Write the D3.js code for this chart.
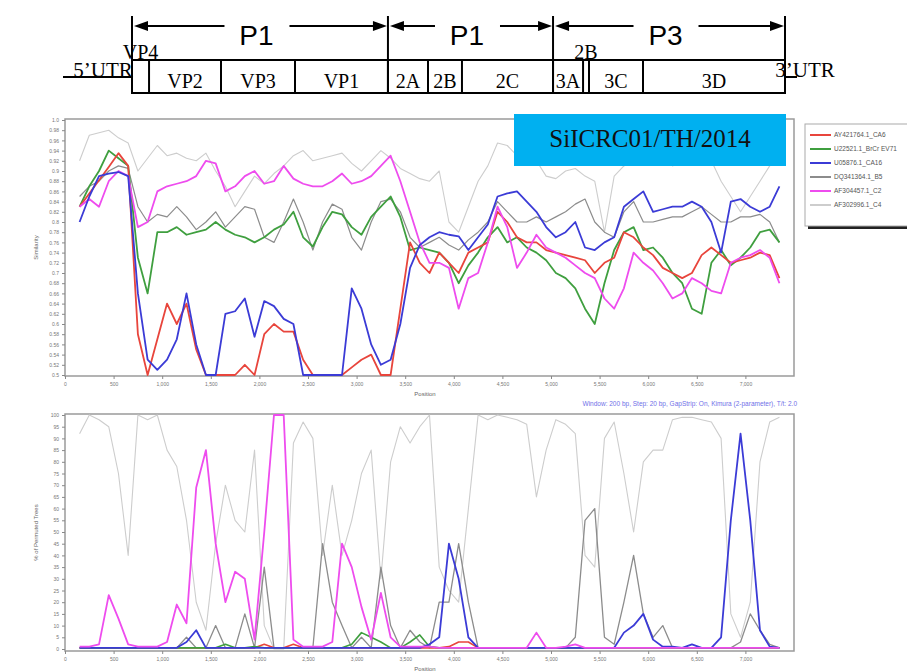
<!DOCTYPE html>
<html>
<head>
<meta charset="utf-8">
<script src="https://cdn.jsdelivr.net/npm/d3@7"></script>
<style>
body { margin: 0; background: #fff; }
svg { display: block; }
</style>
</head>
<body>
<svg id="svg0" width="907" height="671"></svg>
<script>

// ---- genome map (nt positions of the gene starts, drawn with a linear scale)
var geneLabels = ["VP4", "VP2", "VP3", "VP1", "2A", "2B", "2C", "3A", "2B", "3C", "3D"];
var geneStarts = [740, 912, 1638, 2385, 3323, 3727, 4070, 4989, 5292, 5352, 5897];
var labelAbove = [true, false, false, false, false, false, false, false, true, false, false];
var genomeEnd = 7330;
var proteinLabels = ["P1", "P1", "P3"];
var proteinStarts = [740, 3323, 4989];

// ---- sequences
var seriesNames = ["AY421764.1_CA6", "U22521.1_BrCr EV71", "U05876.1_CA16",
	"DQ341364.1_B5", "AF304457.1_C2", "AF302996.1_C4"];
var seriesColors = ["#e8453c", "#3f9f3f", "#3b3bd6", "#8c8c8c", "#ee4cee", "#cdcdcd"];

// window midpoints (bp)
var positions = [150, 250, 350, 450, 550, 650, 750, 850, 950, 1050, 1150, 1250, 1350, 1450,
	1550, 1650, 1750, 1850, 1950, 2050, 2150, 2250, 2350, 2450, 2550, 2650, 2750, 2850,
	2950, 3050, 3150, 3250, 3350, 3450, 3550, 3650, 3750, 3850, 3950, 4050, 4150, 4250,
	4350, 4450, 4550, 4650, 4750, 4850, 4950, 5050, 5150, 5250, 5350, 5450, 5550, 5650,
	5750, 5850, 5950, 6050, 6150, 6250, 6350, 6450, 6550, 6650, 6750, 6850, 6950, 7050,
	7150, 7250, 7350];

// similarity plot values
var simCA6 = [.83, .856, .882, .908, .935, .91, .58, .5, .57, .64,
	.60, .64, .55, .5, .5, .5, .5, .52, .5, .58,
	.60, .585, .585, .53, .5, .5, .5, .5, .515, .53,
	.54, .5, .5, .63, .76, .72, .70, .74, .72, .70,
	.74, .75, .76, .82, .80, .77, .76, .76, .745, .74,
	.735, .73, .725, .70, .72, .73, .78, .77, .75, .735,
	.71, .70, .69, .70, .735, .75, .735, .72, .725, .73,
	.74, .735, .69];
var simEV71 = [.83, .87, .90, .94, .925, .91, .73, .66, .78, .78,
	.79, .775, .78, .785, .80, .785, .775, .77, .76, .77,
	.785, .795, .82, .77, .752, .79, .82, .815, .79, .775,
	.81, .83, .85, .81, .745, .75, .745, .74, .72, .68,
	.715, .74, .77, .79, .76, .77, .75, .74, .725, .70,
	.69, .67, .63, .60, .68, .745, .78, .79, .745, .75,
	.73, .70, .68, .63, .62, .72, .745, .715, .73, .75,
	.78, .785, .76];
var simCA16 = [.80, .85, .89, .895, .898, .89, .66, .53, .51, .53,
	.57, .66, .56, .5, .5, .62, .625, .65, .575, .645,
	.635, .61, .60, .5, .5, .5, .5, .5, .67, .63,
	.56, .52, .53, .60, .71, .755, .77, .78, .775, .772,
	.745, .77, .795, .85, .856, .86, .84, .82, .79, .77,
	.78, .80, .75, .745, .76, .77, .83, .845, .86, .82,
	.825, .83, .83, .84, .83, .80, .74, .84, .845, .83,
	.82, .83, .87];
var simB5 = [.85, .87, .88, .90, .91, .905, .83, .80, .815, .81,
	.83, .81, .785, .80, .82, .79, .81, .83, .825, .77,
	.76, .80, .845, .80, .745, .80, .835, .825, .77, .745,
	.80, .84, .845, .82, .77, .75, .76, .77, .755, .745,
	.765, .78, .80, .84, .82, .80, .80, .81, .80, .81,
	.82, .835, .845, .80, .78, .77, .82, .84, .80, .80,
	.805, .81, .81, .82, .83, .815, .80, .80, .81, .81,
	.815, .80, .76];
var simC2 = [.83, .845, .83, .88, .90, .89, .79, .80, .86, .87,
	.875, .88, .89, .92, .915, .86, .87, .89, .90, .875,
	.88, .91, .885, .875, .87, .87, .88, .895, .875, .88,
	.89, .91, .93, .88, .82, .76, .72, .72, .71, .63,
	.69, .70, .76, .83, .79, .71, .74, .775, .75, .74,
	.73, .715, .70, .69, .65, .63, .67, .74, .72, .705,
	.68, .65, .66, .69, .68, .665, .66, .72, .73, .735,
	.745, .73, .68];
var simC4 = [.92, .97, .975, .98, .965, .955, .90, .925, .95, .93,
	.935, .925, .92, .935, .90, .87, .83, .86, .89, .875,
	.895, .91, .93, .94, .92, .925, .93, .935, .915, .90,
	.92, .94, .925, .905, .895, .885, .88, .90, .80, .78,
	.83, .88, .91, .955, .95, .93, .95, .92, .89, .885,
	.90, .905, .89, .88, .78, .89, .91, .92, .93, .935,
	.925, .91, .92, .925, .93, .92, .88, .85, .82, .85,
	.88, .91, .94];

// bootscan values (% of permuted trees)
var bootCA6 = [.5, .5, .5, .5, .5, .5, .5, .5, .5, .5,
	.5, .5, .5, .5, .5, .5, .5, .5, .5, 2,
	.5, .5, 2, .5, .5, .5, .5, .5, .5, .5,
	.5, .5, .5, .5, .5, .5, .5, .5, 1, 3,
	3, .5, .5, .5, .5, .5, .5, .5, .5, .5,
	.5, .5, .5, .5, .5, .5, .5, .5, .5, .5,
	.5, .5, .5, .5, .5, .5, .5, .5, .5, .5,
	.5, .5, .5];
var bootEV71 = [.5, .5, .5, .5, .5, .5, .5, .5, .5, .5,
	.5, .5, .5, .5, .5, 2, .5, .5, 1, .5,
	.5, .5, .5, .5, .5, .5, .5, .5, 2, 7,
	5, 3, .5, .5, 3, 6, 1, .5, .5, .5,
	.5, .5, .5, .5, .5, .5, .5, .5, .5, .5,
	.5, .5, .5, .5, .5, .5, .5, .5, .5, .5,
	.5, .5, .5, .5, .5, .5, .5, .5, .5, .5,
	.5, .5, .5];
var bootCA16 = [.5, .5, .5, .5, .5, .5, .5, .5, .5, .5,
	.5, 3, 8, .5, .5, .5, .5, .5, .5, .5,
	.5, .5, .5, .5, .5, .5, .5, .5, .5, .5,
	.5, .5, .5, .5, .5, .5, 2, 5, 45, 30,
	5, .5, .5, .5, .5, .5, .5, .5, .5, .5,
	.5, .5, .5, .5, .5, .5, 7, 10, 15, 4,
	1, 1, .5, 2, .5, .5, 5, 55, 92, 55,
	8, 1, .5];
var bootB5 = [.5, .5, .5, .5, .5, .5, .5, .5, .5, .5,
	.5, 5, .5, .5, 10, .5, .5, 15, .5, 35,
	.5, .5, .5, .5, .5, 45, 20, 10, .5, 5,
	.5, 35, 10, .5, 8, 3, .5, 20, 20, 45,
	20, .5, .5, .5, .5, .5, .5, .5, .5, .5,
	.5, 5, 55, 60, 5, 2, 20, 40, 15, 5,
	10, .5, .5, .5, .5, .5, .5, .5, 3, 15,
	8, 2, .5];
var bootC2 = [1, 1, 2, 23, 13, 2, 1, 1, 1, 3,
	19, 11, 69, 85, 45, 20, 33, 30, 4, 50,
	100, 100, 4, 1, 1, 1, 3, 45, 35, 18,
	4, 24, 5, 1, 1, 1, 1, .5, .5, .5,
	.5, .5, .5, .5, .5, .5, .5, 7, .5, .5,
	1, 2, .5, .5, .5, .5, .5, .5, .5, .5,
	.5, .5, .5, .5, .5, .5, .5, .5, .5, .5,
	.5, .5, .5];
var bootC4 = [92, 100, 98, 95, 75, 40, 100, 98, 100, 85,
	78, 55, 20, 8, 45, 70, 55, 50, 85, 10,
	0, 0, 88, 97, 90, 40, 70, 40, 55, 75,
	85, 30, 80, 95, 88, 95, 100, 35, 25, 20,
	60, 100, 98, 100, 99, 98, 96, 65, 85, 98,
	96, 92, 40, 35, 90, 97, 75, 50, 80, 85,
	85, 98, 99, 99, 98, 97, 90, 15, 5, 20,
	80, 97, 99];

// tick values
var xTicks = [0, 500, 1000, 1500, 2000, 2500, 3000, 3500, 4000, 4500, 5000, 5500, 6000, 6500, 7000];
var simTicks = [0.5, 0.52, 0.54, 0.56, 0.58, 0.6, 0.62, 0.64, 0.66, 0.68, 0.7, 0.72, 0.74,
	0.76, 0.78, 0.8, 0.82, 0.84, 0.86, 0.88, 0.9, 0.92, 0.94, 0.96, 0.98, 1.0];
var bootTicks = [0, 5, 10, 15, 20, 25, 30, 35, 40, 45, 50, 55, 60, 65, 70, 75, 80, 85, 90, 95, 100];

var svg = d3.select("#svg0");

// ================= genome map =================
var gmap = svg.append("g").attr("id", "genome_map");
var gx = d3.scaleLinear().domain([geneStarts[0], genomeEnd]).range([132, 785]);
var boxTop = 60, boxBottom = 93, arrowY = 26;
var serif = "'Liberation Serif', 'Times New Roman', serif";

gmap.append("rect")
	.attr("x", gx(geneStarts[0]))
	.attr("y", boxTop)
	.attr("width", gx(genomeEnd) - gx(geneStarts[0]))
	.attr("height", boxBottom - boxTop)
	.attr("fill", "none")
	.attr("stroke", "#000")
	.attr("stroke-width", 2);

gmap.selectAll("line.gene")
	.data(geneStarts.slice(1))
	.enter()
	.append("line")
	.attr("class", "gene")
	.attr("x1", d => gx(d)).attr("x2", d => gx(d))
	.attr("y1", boxTop).attr("y2", boxBottom)
	.attr("stroke", "#000")
	.attr("stroke-width", 2);

// long vertical bars at the polyprotein boundaries
gmap.selectAll("line.prot")
	.data(proteinStarts.concat([genomeEnd]))
	.enter()
	.append("line")
	.attr("class", "prot")
	.attr("x1", d => gx(d)).attr("x2", d => gx(d))
	.attr("y1", 16).attr("y2", boxBottom)
	.attr("stroke", "#000")
	.attr("stroke-width", 2);

// gene names
geneLabels.forEach(function(name, i) {
	var s = geneStarts[i];
	var e = i + 1 < geneStarts.length ? geneStarts[i + 1] : genomeEnd;
	gmap.append("text")
		.attr("x", (gx(s) + gx(e)) / 2)
		.attr("y", labelAbove[i] ? 59 : 88)
		.attr("text-anchor", "middle")
		.attr("font-family", serif)
		.attr("font-size", 20)
		.text(name);
});

// UTRs
gmap.append("line")
	.attr("x1", 63).attr("x2", gx(geneStarts[0]))
	.attr("y1", 77).attr("y2", 77)
	.attr("stroke", "#000").attr("stroke-width", 2);
gmap.append("text")
	.attr("x", 103).attr("y", 77)
	.attr("text-anchor", "middle")
	.attr("font-family", serif)
	.attr("font-size", 21)
	.text("5\u2019UTR");
gmap.append("line")
	.attr("x1", gx(genomeEnd)).attr("x2", gx(genomeEnd) + 12)
	.attr("y1", 77).attr("y2", 77)
	.attr("stroke", "#000").attr("stroke-width", 2);
gmap.append("text")
	.attr("x", 805).attr("y", 77)
	.attr("text-anchor", "middle")
	.attr("font-family", serif)
	.attr("font-size", 21)
	.text("3\u2019UTR");

// polyprotein arrows
var arrowHead = function(tip, dir) {
	gmap.append("path")
		.attr("d", "M" + tip + "," + arrowY +
			"L" + (tip + dir * 14) + "," + (arrowY - 5) +
			"L" + (tip + dir * 14) + "," + (arrowY + 5) + "Z")
		.attr("fill", "#000");
};
proteinLabels.forEach(function(name, i) {
	var a = gx(proteinStarts[i]) + 2;
	var b = gx(i + 1 < proteinStarts.length ? proteinStarts[i + 1] : genomeEnd) - 1;
	var c = (a + b) / 2 - 4;
	gmap.append("line")
		.attr("x1", a + 10).attr("x2", c - 32)
		.attr("y1", arrowY).attr("y2", arrowY)
		.attr("stroke", "#000").attr("stroke-width", 2);
	gmap.append("line")
		.attr("x1", c + 33).attr("x2", b - 10)
		.attr("y1", arrowY).attr("y2", arrowY)
		.attr("stroke", "#000").attr("stroke-width", 2);
	arrowHead(a, 1);
	arrowHead(b, -1);
	gmap.append("text")
		.attr("x", c).attr("y", 45)
		.attr("text-anchor", "middle")
		.attr("font-family", "'Liberation Sans', Arial, sans-serif")
		.attr("font-size", 28)
		.text(name);
});

// ================= plots =================
var x = d3.scaleLinear().domain([0, 7500]).range([65, 794]);
var ySim = d3.scaleLinear().domain([0.5, 1.0]).range([375, 120]);
var yBoot = d3.scaleLinear().domain([0, 100]).range([649, 415]);
var sans = "'Liberation Sans', Arial, sans-serif";

var drawPlot = function(opts) {
	var g = svg.append("g").attr("id", opts.id);
	var y = opts.y;
	var x0 = x.range()[0], x1 = x.range()[1];

	g.append("clipPath").attr("id", opts.id + "_clip")
		.append("rect")
		.attr("x", x0).attr("y", opts.top)
		.attr("width", x1 - x0).attr("height", opts.bottom - opts.top);

	g.append("rect")
		.attr("x", x0).attr("y", opts.top)
		.attr("width", x1 - x0).attr("height", opts.bottom - opts.top)
		.attr("fill", "#fff")
		.attr("stroke", "#9a9a9a")
		.attr("stroke-width", 1.5);

	var lo = y.domain()[0], hi = y.domain()[1];
	var line = d3.line()
		.x((d, i) => x(positions[i]))
		.y(d => y(Math.max(lo, Math.min(hi, d))));

	var lines = g.append("g").attr("clip-path", "url(#" + opts.id + "_clip)");
	opts.order.forEach(function(k) {
		lines.append("path")
			.datum(opts.series[k])
			.attr("d", line)
			.attr("fill", "none")
			.attr("stroke", seriesColors[k])
			.attr("stroke-width", opts.widths[k])
			.attr("stroke-linejoin", "round");
	});

	var ya = g.append("g")
		.attr("transform", "translate(" + x0 + ",0)")
		.call(d3.axisLeft(y).tickValues(opts.ticks).tickSize(3).tickFormat(opts.fmt));
	var xa = g.append("g")
		.attr("transform", "translate(0," + opts.bottom + ")")
		.call(d3.axisBottom(x).tickValues(xTicks).tickSize(3).tickFormat(d3.format(",")));
	[ya, xa].forEach(function(a) {
		a.select(".domain").remove();
		a.attr("font-family", sans).attr("font-size", 5);
		a.selectAll("line").attr("stroke", "#888");
		a.selectAll("text").attr("fill", "#777");
	});

	g.append("text")
		.attr("transform", "translate(38," + ((opts.top + opts.bottom) / 2) + ") rotate(-90)")
		.attr("text-anchor", "middle")
		.attr("font-family", sans).attr("font-size", 6)
		.attr("fill", "#666")
		.text(opts.ylabel);
	g.append("text")
		.attr("x", 425).attr("y", opts.bottom + 20)
		.attr("text-anchor", "middle")
		.attr("font-family", sans).attr("font-size", 6)
		.attr("fill", "#666")
		.text("Position");
};

drawPlot({
	id: "simplot", y: ySim, top: 119, bottom: 376,
	series: [simCA6, simEV71, simCA16, simB5, simC2, simC4],
	order: [5, 3, 1, 0, 4, 2],
	widths: [1.8, 1.8, 1.8, 1.2, 1.8, 1.1],
	ticks: simTicks,
	fmt: d => (Math.abs(d * 10 - Math.round(d * 10)) < 1e-6 ? d.toFixed(1) : d.toFixed(2)),
	ylabel: "Similarity"
});

drawPlot({
	id: "bootscan", y: yBoot, top: 414, bottom: 651,
	series: [bootCA6, bootEV71, bootCA16, bootB5, bootC2, bootC4],
	order: [5, 3, 0, 1, 2, 4],
	widths: [1.6, 1.6, 1.8, 1.3, 1.8, 1.1],
	ticks: bootTicks,
	fmt: d3.format("d"),
	ylabel: "% of Permuted Trees"
});

// analysis parameters line
svg.append("text")
	.attr("x", 797).attr("y", 406)
	.attr("text-anchor", "end")
	.attr("font-family", sans).attr("font-size", 6.5)
	.attr("fill", "#6f6fe8")
	.text("Window: 200 bp, Step: 20 bp, GapStrip: On, Kimura (2-parameter), T/t: 2.0");

// legend
var legend = svg.append("g").attr("id", "legend");
legend.append("rect")
	.attr("x", 808).attr("y", 127).attr("width", 110).attr("height", 102)
	.attr("fill", "#222");
legend.append("rect")
	.attr("x", 805).attr("y", 124).attr("width", 110).attr("height", 102)
	.attr("fill", "#fff").attr("stroke", "#aaa");
seriesNames.forEach(function(name, i) {
	var ly = 135 + i * 14;
	legend.append("line")
		.attr("x1", 810).attr("x2", 831)
		.attr("y1", ly).attr("y2", ly)
		.attr("stroke", seriesColors[i]).attr("stroke-width", 2);
	legend.append("text")
		.attr("x", 834).attr("y", ly + 2.3)
		.attr("font-family", sans).attr("font-size", 6.5)
		.attr("fill", "#555")
		.text(name);
});

// strain label
svg.append("rect")
	.attr("x", 514).attr("y", 114).attr("width", 272).attr("height", 52)
	.attr("fill", "#00b0f0");
svg.append("text")
	.attr("x", 650).attr("y", 147)
	.attr("text-anchor", "middle")
	.attr("font-family", serif)
	.attr("font-size", 25)
	.attr("fill", "#111")
	.text("SiICRC01/TH/2014");

</script>
</body>
</html>
